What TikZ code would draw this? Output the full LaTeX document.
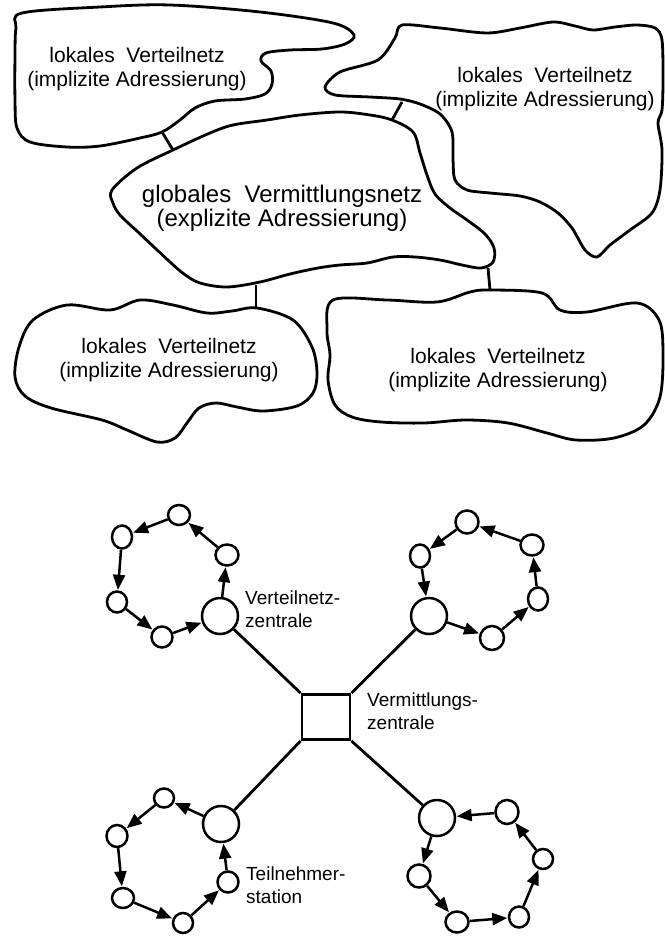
\documentclass[tikz,border=0pt]{standalone}
\usepackage{fontspec}
\setmainfont{Liberation Sans}
\usetikzlibrary{arrows.meta,shapes.geometric}
\begin{document}
\begin{tikzpicture}[x=1pt,y=-1pt,
  blob/.style={line width=2.8pt, line join=round},
  blobtext/.style={anchor=base, inner sep=0pt, font=\fontsize{21}{24}\selectfont},
  globtext/.style={anchor=base, inner sep=0pt, font=\fontsize{24}{24.5}\selectfont},
  stn/.style={ellipse, draw, line width=2.5pt, inner sep=0pt, fill=white},
  zen/.style={circle, draw, line width=2.5pt, inner sep=0pt, fill=white, minimum size=36pt},
  arr/.style={line width=2.5pt, -{Triangle[length=15pt,width=12pt]}, shorten >=0.5pt},
  link/.style={line width=2.8pt},
  lbl/.style={anchor=base west, inner sep=0pt, font=\fontsize{19}{23}\selectfont}
]
\useasboundingbox (0,0) rectangle (664,936);

% ---------- upper part: clouds ----------
% top-left local network
\draw[blob] plot[smooth cycle, tension=0.55] coordinates {
  (22,13) (100,7) (170,5) (260,12) (333,23) (354,35) (345,44) (322,49)
  (290,50) (266,53) (261,61) (271,71) (272,84) (265,94) (245,99) (215,101)
  (195,108) (180,120) (162,132) (140,138) (100,146) (67,147) (30,142)
  (17,128) (15,100) (15,55) (16,28)};
% top-right local network
\draw[blob] plot[smooth cycle, tension=0.5] coordinates {
  (402,25) (440,28) (487,33) (520,28) (553,22) (575,26) (593,30) (615,27)
  (637,25) (655,28) (662,40) (663,80) (662,110) (658,123) (662,150)
  (660,190) (652,213) (630,230) (610,245) (597,257) (585,250) (572,228)
  (558,213) (540,202) (520,196) (490,193) (467,190) (455,180) (453,160)
  (452,132) (440,114) (420,104) (400,99) (370,97) (335,95) (325,87)
  (340,72) (378,60) (395,38)};
% global switching network
\draw[blob] plot[smooth cycle, tension=0.55] coordinates {
  (112,190) (137,168) (173,150) (210,133) (233,125) (267,120) (300,115)
  (340,112) (370,115) (392,120) (413,132) (420,153) (427,175) (435,194)
  (450,208) (467,220) (485,234) (494,248) (493,262) (481,268) (462,265)
  (440,260) (415,257) (393,257) (367,263) (340,265) (318,268) (290,274)
  (260,282) (227,287) (200,283) (184,274) (170,262) (155,248) (138,232)
  (120,215) (113,203)};
% bottom-left local network
\draw[blob] plot[smooth cycle, tension=0.55] coordinates {
  (110,310) (140,300) (173,305) (207,313) (232,311) (257,308) (293,320)
  (312,347) (317,373) (313,393) (297,406) (263,411) (237,407) (216,403)
  (199,408) (187,423) (175,438) (157,442) (127,430) (102,420) (51,408)
  (25,396) (15,377) (19,347) (33,320) (67,305)};
% bottom-right local network
\draw[blob] plot[smooth cycle, tension=0.55] coordinates {
  (333,300) (387,300) (437,302) (470,292) (490,290) (542,293) (560,310)
  (587,312) (637,303) (659,320) (663,353) (660,397) (644,425) (614,438)
  (576,440) (547,433) (508,423) (466,420) (424,423) (381,422) (352,417)
  (335,405) (328,380) (330,355) (327,330)};

% cloud texts
\node[blobtext] (t1) at (137,63) {\begin{tabular}[t]{@{}c@{}}lokales\ \ Verteilnetz\\(implizite Adressierung)\end{tabular}};
\node[blobtext] (t2) at (545,83) {\begin{tabular}[t]{@{}c@{}}lokales\ \ Verteilnetz\\(implizite Adressierung)\end{tabular}};
\node[globtext] (t3) at (282,202) {\begin{tabular}[t]{@{}c@{}}globales\ \ Vermittlungsnetz\\(explizite Adressierung)\end{tabular}};
\node[blobtext] (t4) at (169,353) {\begin{tabular}[t]{@{}c@{}}lokales\ \ Verteilnetz\\(implizite Adressierung)\end{tabular}};
\node[blobtext] (t5) at (498,363) {\begin{tabular}[t]{@{}c@{}}lokales\ \ Verteilnetz\\(implizite Adressierung)\end{tabular}};

% cloud links
\coordinate (l1a) at (162,132); \coordinate (l1b) at (173,150);
\coordinate (l2a) at (402,102); \coordinate (l2b) at (392,120);
\coordinate (l3a) at (256,285); \coordinate (l3b) at (256,308);
\coordinate (l4a) at (488,268); \coordinate (l4b) at (490,290);
\draw[link] (l1a) -- (l1b);
\draw[link] (l2a) -- (l2b);
\draw[link] (l3a) -- (l3b);
\draw[link] (l4a) -- (l4b);

% ---------- lower part: rings ----------
\node[draw, line width=2.8pt, inner sep=0pt, minimum width=48pt, minimum height=45pt] (vz) at (326,717) {};

% top-left ring
\node[zen] (z1) at (220,616) {};
\node[stn, minimum width=23pt, minimum height=21pt] (a1) at (227,555) {};
\node[stn, minimum width=22pt, minimum height=20pt] (b1) at (179,515) {};
\node[stn, minimum width=20pt, minimum height=23pt] (c1) at (122,537) {};
\node[stn, minimum width=20pt, minimum height=21pt] (d1) at (117,602) {};
\node[stn, minimum width=21pt, minimum height=21pt] (e1) at (162,637) {};
\draw[arr] (z1) -- (a1);
\draw[arr] (a1) -- (b1);
\draw[arr] (b1) -- (c1);
\draw[arr] (c1) -- (d1);
\draw[arr] (d1) -- (e1);
\draw[arr] (e1) -- (z1);

% top-right ring
\node[zen] (z2) at (429,616) {};
\node[stn, minimum width=20pt, minimum height=23pt] (f2) at (420,556) {};
\node[stn, minimum width=23pt, minimum height=23pt] (g2) at (467,522) {};
\node[stn, minimum width=23pt, minimum height=21pt] (h2) at (532,545) {};
\node[stn, minimum width=20pt, minimum height=23pt] (i2) at (538,599) {};
\node[stn, minimum width=24pt, minimum height=24pt] (j2) at (492,638) {};
\draw[arr] (g2) -- (f2);
\draw[arr] (f2) -- (z2);
\draw[arr] (z2) -- (j2);
\draw[arr] (j2) -- (i2);
\draw[arr] (i2) -- (h2);
\draw[arr] (h2) -- (g2);

% bottom-left ring
\node[zen] (z3) at (221,824) {};
\node[stn, minimum width=20pt, minimum height=19pt] (k3) at (164,798) {};
\node[stn, minimum width=21pt, minimum height=22pt] (l3) at (117,836) {};
\node[stn, minimum width=22pt, minimum height=20pt] (m3) at (123,898) {};
\node[stn, minimum width=20pt, minimum height=20pt] (n3) at (183,923) {};
\node[stn, minimum width=21pt, minimum height=21pt] (o3) at (228,882) {};
\draw[arr] (z3) -- (k3);
\draw[arr] (k3) -- (l3);
\draw[arr] (l3) -- (m3);
\draw[arr] (m3) -- (n3);
\draw[arr] (n3) -- (o3);
\draw[arr] (o3) -- (z3);

% bottom-right ring
\node[zen] (z4) at (437,818) {};
\node[stn, minimum width=23pt, minimum height=23pt] (p4) at (419,876) {};
\node[stn, minimum width=23pt, minimum height=21pt] (q4) at (457,922) {};
\node[stn, minimum width=20pt, minimum height=21pt] (r4) at (519,917) {};
\node[stn, minimum width=20pt, minimum height=20pt] (s4) at (543,859) {};
\node[stn, minimum width=23pt, minimum height=24pt] (t4) at (507,812) {};
\draw[arr] (t4) -- (z4);
\draw[arr] (z4) -- (p4);
\draw[arr] (p4) -- (q4);
\draw[arr] (q4) -- (r4);
\draw[arr] (r4) -- (s4);
\draw[arr] (s4) -- (t4);

% centre links
\draw[link] (vz.north west) -- (z1);
\draw[link] (vz.north east) -- (z2);
\draw[link] (vz.south west) -- (z3);
\draw[link] (vz.south east) -- (z4);

% labels
\node[lbl] (lab1) at (245,604) {\begin{tabular}[t]{@{}l@{}}Verteilnetz-\\zentrale\end{tabular}};
\node[lbl] (lab2) at (367,706) {\begin{tabular}[t]{@{}l@{}}Vermittlungs-\\zentrale\end{tabular}};
\node[lbl] (lab3) at (246,880) {\begin{tabular}[t]{@{}l@{}}Teilnehmer-\\station\end{tabular}};
\end{tikzpicture}
\end{document}
